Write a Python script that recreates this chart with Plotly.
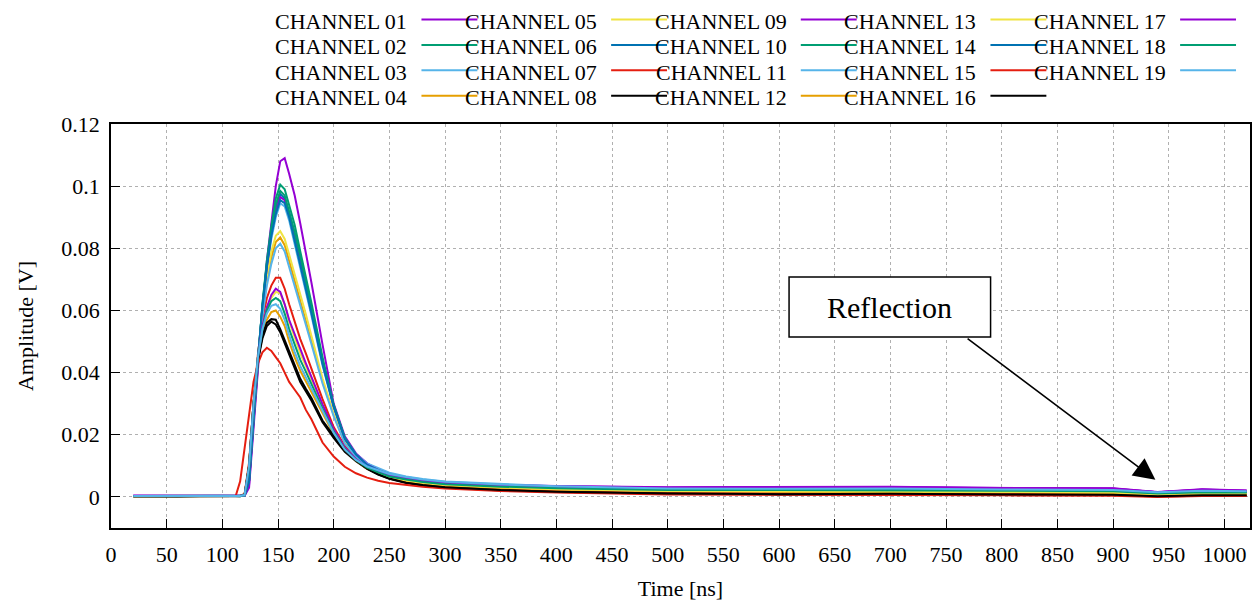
import plotly.graph_objects as go

# ---------------- data ----------------
time_ns = [20, 60, 100, 112, 116, 120, 124, 128, 132, 136, 140, 144, 148, 152, 156, 160,
           165, 170, 175, 180, 190, 200, 210, 220, 230, 240, 250, 265, 280, 300, 350, 400,
           500, 600, 700, 800, 900, 940, 980, 1020]

ch01 = [0.0004, 0.0003, 0.0004, 0.0002, 0.0003, 0.0004, 0.003, 0.022, 0.042, 0.060, 0.076, 0.089, 0.100, 0.108, 0.109, 0.104,
        0.097, 0.088, 0.079, 0.069, 0.049, 0.030, 0.0195, 0.0140, 0.0108, 0.0088, 0.0074, 0.0062, 0.0054, 0.0047, 0.0039, 0.0035,
        0.0031, 0.0033, 0.0033, 0.0029, 0.0028, 0.0016, 0.0025, 0.0021]
ch02 = [0.0003, 0.0004, 0.0003, 0.0003, 0.0002, 0.0005, 0.005, 0.025, 0.045, 0.062, 0.076, 0.087, 0.096, 0.1005, 0.099, 0.094,
        0.0875, 0.079, 0.071, 0.0625, 0.045, 0.029, 0.0190, 0.0137, 0.0104, 0.0086, 0.0072, 0.0060, 0.0052, 0.0045, 0.0037, 0.0032,
        0.0026, 0.0026, 0.0027, 0.0023, 0.0021, 0.0013, 0.0018, 0.0016]
ch03 = [0.0003, 0.0002, 0.0004, 0.0003, 0.0003, 0.0006, 0.006, 0.026, 0.045, 0.061, 0.073, 0.083, 0.090, 0.0945, 0.0935, 0.089,
        0.0813, 0.0737, 0.0664, 0.0584, 0.0423, 0.0288, 0.0188, 0.0138, 0.0108, 0.0092, 0.0078, 0.0066, 0.0058, 0.0050, 0.0041, 0.0034,
        0.0027, 0.0026, 0.0026, 0.0024, 0.0022, 0.0015, 0.0019, 0.0017]
ch04 = [0.0002, 0.0003, 0.0003, 0.0002, 0.0003, 0.0006, 0.007, 0.027, 0.045, 0.059, 0.070, 0.077, 0.082, 0.0835, 0.081, 0.076,
        0.0696, 0.063, 0.057, 0.0504, 0.0372, 0.0264, 0.0173, 0.0129, 0.0096, 0.0080, 0.0066, 0.0054, 0.0046, 0.0039, 0.0031, 0.0026,
        0.0020, 0.0019, 0.0019, 0.0017, 0.0015, 0.0009, 0.0012, 0.0011]
ch05 = [0.0003, 0.0003, 0.0004, 0.0003, 0.0003, 0.0005, 0.007, 0.027, 0.045, 0.060, 0.071, 0.079, 0.084, 0.0855, 0.083, 0.078,
        0.0718, 0.0651, 0.0588, 0.0519, 0.0382, 0.0268, 0.0176, 0.0131, 0.0097, 0.0081, 0.0067, 0.0055, 0.0047, 0.0040, 0.0032, 0.0027,
        0.0021, 0.0020, 0.0020, 0.0018, 0.0016, 0.0010, 0.0013, 0.0012]
ch06 = [0.0002, 0.0003, 0.0004, 0.0003, 0.0003, 0.0004, 0.005, 0.025, 0.045, 0.061, 0.075, 0.085, 0.093, 0.0975, 0.096, 0.0915,
        0.0847, 0.0768, 0.0691, 0.0606, 0.0437, 0.0295, 0.0188, 0.0136, 0.0102, 0.0085, 0.0071, 0.0059, 0.0051, 0.0044, 0.0036, 0.0031,
        0.0025, 0.0025, 0.0025, 0.0022, 0.0020, 0.0013, 0.0017, 0.0015]
ch07 = [0.0003, 0.0004, 0.0003, 0.0003, 0.0004, 0.001, 0.011, 0.030, 0.046, 0.057, 0.064, 0.068, 0.0705, 0.0705, 0.067, 0.062,
        0.0561, 0.0508, 0.0462, 0.0413, 0.0315, 0.0225, 0.0163, 0.0124, 0.0094, 0.0078, 0.0063, 0.0050, 0.0042, 0.0034, 0.0025, 0.0019,
        0.0013, 0.0012, 0.0012, 0.0010, 0.0009, 0.0004, 0.0007, 0.0006]
ch08 = [0.0002, 0.0001, 0.0003, 0.0002, 0.0002, 0.0008, 0.010, 0.030, 0.044, 0.051, 0.055, 0.0564, 0.0555, 0.053, 0.0495, 0.046,
        0.041, 0.037, 0.034, 0.031, 0.024, 0.0190, 0.0145, 0.0115, 0.0090, 0.0072, 0.0058, 0.0045, 0.0037, 0.0030, 0.0021, 0.0016,
        0.0010, 0.0008, 0.0009, 0.0007, 0.0006, 0.0001, 0.0004, 0.0004]
ch09 = [0.0004, 0.0003, 0.0003, 0.0003, 0.0004, 0.0004, 0.004, 0.024, 0.044, 0.061, 0.074, 0.085, 0.092, 0.0965, 0.0955, 0.091,
        0.0836, 0.0758, 0.0682, 0.0599, 0.0432, 0.0292, 0.0188, 0.0137, 0.0104, 0.0087, 0.0073, 0.0061, 0.0053, 0.0046, 0.0038, 0.0034,
        0.0030, 0.0032, 0.0031, 0.0028, 0.0027, 0.0015, 0.0024, 0.0020]
ch10 = [0.0003, 0.0003, 0.0002, 0.0003, 0.0003, 0.0005, 0.005, 0.025, 0.045, 0.062, 0.075, 0.086, 0.094, 0.0985, 0.097, 0.092,
        0.085, 0.0773, 0.0696, 0.061, 0.044, 0.0296, 0.0189, 0.0136, 0.0101, 0.0084, 0.0070, 0.0058, 0.0050, 0.0043, 0.0035, 0.0030,
        0.0024, 0.0024, 0.0025, 0.0021, 0.0019, 0.0012, 0.0016, 0.0015]
ch11 = [0.0003, 0.0003, 0.0003, 0.0004, 0.0003, 0.0005, 0.007, 0.027, 0.045, 0.058, 0.068, 0.075, 0.080, 0.0815, 0.079, 0.074,
        0.0679, 0.0615, 0.0556, 0.0492, 0.0365, 0.0260, 0.0172, 0.0130, 0.0100, 0.0088, 0.0074, 0.0062, 0.0054, 0.0047, 0.0038, 0.0032,
        0.0025, 0.0024, 0.0024, 0.0022, 0.0020, 0.0013, 0.0018, 0.0016]
ch12 = [0.0002, 0.0003, 0.0003, 0.0002, 0.0003, 0.0007, 0.010, 0.030, 0.045, 0.053, 0.057, 0.0595, 0.060, 0.058, 0.055, 0.050,
        0.0449, 0.0406, 0.0372, 0.0337, 0.0267, 0.0202, 0.0150, 0.0117, 0.0091, 0.0076, 0.0063, 0.0052, 0.0044, 0.0037, 0.0029, 0.0024,
        0.0018, 0.0017, 0.0017, 0.0015, 0.0013, 0.0007, 0.0010, 0.0009]
ch13 = [0.0003, 0.0004, 0.0003, 0.0003, 0.0004, 0.0006, 0.009, 0.029, 0.045, 0.055, 0.061, 0.064, 0.066, 0.0655, 0.062, 0.0565,
        0.0511, 0.0462, 0.0421, 0.0378, 0.0293, 0.0215, 0.0156, 0.0120, 0.0093, 0.0078, 0.0064, 0.0053, 0.0045, 0.0038, 0.0030, 0.0025,
        0.0019, 0.0018, 0.0018, 0.0016, 0.0014, 0.0008, 0.0011, 0.0010]
ch14 = [0.0003, 0.0002, 0.0003, 0.0003, 0.0003, 0.0005, 0.005, 0.025, 0.045, 0.061, 0.074, 0.084, 0.091, 0.0955, 0.0945, 0.090,
        0.0824, 0.0747, 0.0673, 0.0591, 0.0428, 0.0290, 0.0187, 0.0136, 0.0103, 0.0086, 0.0072, 0.0060, 0.0052, 0.0045, 0.0037, 0.0032,
        0.0026, 0.0026, 0.0026, 0.0023, 0.0021, 0.0014, 0.0018, 0.0016]
ch15 = [0.0003, 0.0002, 0.0003, 0.0003, 0.005, 0.016, 0.027, 0.037, 0.043, 0.0465, 0.048, 0.047, 0.045, 0.043, 0.040, 0.037,
        0.0345, 0.032, 0.028, 0.025, 0.0175, 0.0130, 0.0097, 0.0076, 0.0062, 0.0052, 0.0045, 0.0038, 0.0033, 0.0027, 0.0019, 0.0014,
        0.0008, 0.0007, 0.0007, 0.0005, 0.0004, 0.0000, 0.0003, 0.0003]
ch16 = [0.0002, 0.0002, 0.0003, 0.0002, 0.0003, 0.0007, 0.010, 0.030, 0.044, 0.052, 0.056, 0.0572, 0.057, 0.054, 0.0505, 0.047,
        0.042, 0.038, 0.0348, 0.0318, 0.0246, 0.0195, 0.0148, 0.0117, 0.0091, 0.0073, 0.0059, 0.0046, 0.0038, 0.0031, 0.0022, 0.0017,
        0.0011, 0.0009, 0.0010, 0.0008, 0.0007, 0.0002, 0.0005, 0.0005]
ch17 = [0.0004, 0.0003, 0.0004, 0.0003, 0.0004, 0.0006, 0.009, 0.029, 0.045, 0.055, 0.061, 0.065, 0.067, 0.066, 0.062, 0.057,
        0.0522, 0.0472, 0.043, 0.0386, 0.0298, 0.0218, 0.0158, 0.0122, 0.0097, 0.0083, 0.0070, 0.0060, 0.0052, 0.0045, 0.0037, 0.0033,
        0.0029, 0.0031, 0.0031, 0.0028, 0.0026, 0.0015, 0.0023, 0.0020]
ch18 = [0.0003, 0.0003, 0.0003, 0.0003, 0.0003, 0.0006, 0.009, 0.029, 0.045, 0.054, 0.060, 0.063, 0.064, 0.063, 0.059, 0.054,
        0.0488, 0.0441, 0.0403, 0.0363, 0.0284, 0.0210, 0.0154, 0.0119, 0.0094, 0.0079, 0.0066, 0.0056, 0.0048, 0.0041, 0.0033, 0.0028,
        0.0022, 0.0022, 0.0022, 0.0020, 0.0018, 0.0011, 0.0015, 0.0014]
ch19 = [0.0003, 0.0004, 0.0003, 0.0003, 0.0003, 0.0006, 0.010, 0.030, 0.045, 0.054, 0.059, 0.0615, 0.062, 0.0605, 0.057, 0.052,
        0.0466, 0.0421, 0.0385, 0.0348, 0.0274, 0.0206, 0.0152, 0.0119, 0.0098, 0.0085, 0.0074, 0.0064, 0.0056, 0.0049, 0.0040, 0.0034,
        0.0027, 0.0026, 0.0027, 0.0024, 0.0022, 0.0015, 0.0020, 0.0018]

channel_names = ["CHANNEL %02d" % i for i in range(1, 20)]
channel_values = [ch01, ch02, ch03, ch04, ch05, ch06, ch07, ch08, ch09, ch10,
                  ch11, ch12, ch13, ch14, ch15, ch16, ch17, ch18, ch19]
palette = ["#9400d3", "#009e73", "#56b4e9", "#e69f00", "#f0e442", "#0072b2", "#e51e10", "#000000"]

x_ticks = list(range(0, 1001, 50))
y_ticks = [0, 0.02, 0.04, 0.06, 0.08, 0.1, 0.12]
y_tick_text = ["0", "0.02", "0.04", "0.06", "0.08", "0.1", "0.12"]

annotation_text = "Reflection"

# ---------------- figure ----------------
W, H = 1255, 605
L, R, T, B = 111, 3, 124, 77
PW, PH = W - L - R, H - T - B
FONT = "Liberation Serif"
FS = 22

fig = go.Figure()
for i, (name, vals) in enumerate(zip(channel_names, channel_values)):
    fig.add_trace(go.Scatter(x=time_ns, y=vals, mode="lines", name=name,
                             line=dict(color=palette[i % 8], width=2),
                             showlegend=False))

def px_x(p):
    return (p - L) / PW

def px_y(p):
    return (H - B - p) / PH

annotations = []
shapes = []
# gnuplot-style key: text then line sample, 5 columns x 4 rows
for i, name in enumerate(channel_names):
    col, row = i // 4, i % 4
    ly = 19.5 + 25.4 * row
    shapes.append(dict(type="line", xref="paper", yref="paper",
                       x0=px_x(422 + 190 * col), x1=px_x(478 + 190 * col),
                       y0=px_y(ly), y1=px_y(ly),
                       line=dict(color=palette[i % 8], width=2)))
    annotations.append(dict(xref="paper", yref="paper", x=px_x(410 + 190 * col), y=px_y(ly + 2),
                            xanchor="right", yanchor="middle", showarrow=False,
                            text=name, font=dict(family=FONT, size=FS, color="black")))

# Reflection label box + arrow
shapes.append(dict(type="rect", xref="x", yref="y", x0=609, x1=790, y0=0.0515, y1=0.0708,
                   line=dict(color="black", width=1.5), fillcolor="white", layer="above"))
annotations.append(dict(xref="x", yref="y", x=699.5, y=0.0611, showarrow=False,
                        text=annotation_text, font=dict(family=FONT, size=30, color="black")))
annotations.append(dict(xref="x", yref="y", x=938, y=0.0055, axref="x", ayref="y",
                        ax=768, ay=0.0513, showarrow=True, text="",
                        arrowhead=2, arrowsize=2.7, arrowwidth=1.6, arrowcolor="black"))

axis_common = dict(showline=True, linecolor="black", linewidth=1.5, mirror=True,
                   ticks="inside", ticklen=9, tickcolor="black", tickwidth=1,
                   showgrid=True, gridcolor="#b0b0b0", gridwidth=1, griddash="dot",
                   zeroline=False,
                   tickfont=dict(family=FONT, size=FS, color="black"))

fig.update_layout(
    width=W, height=H, autosize=False,
    margin=dict(l=L, r=R, t=T, b=B),
    paper_bgcolor="white", plot_bgcolor="white",
    showlegend=False,
    xaxis=dict(range=[0, 1023], tickvals=x_ticks, ticklabelstandoff=6,
               title=dict(text="Time [ns]", font=dict(family=FONT, size=FS, color="black"), standoff=14),
               **axis_common),
    yaxis=dict(range=[-0.01, 0.12], tickvals=y_ticks, ticktext=y_tick_text, ticklabelstandoff=5,
               title=dict(text="Amplitude [V]", font=dict(family=FONT, size=FS, color="black"), standoff=22),
               **axis_common),
    shapes=shapes,
    annotations=annotations,
)

fig.write_html("out.html")
